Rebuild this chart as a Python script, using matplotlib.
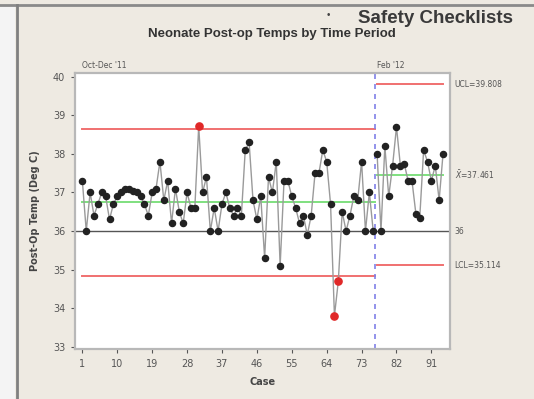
import matplotlib
matplotlib.use("Agg")
import matplotlib.pyplot as plt
from matplotlib.lines import Line2D

# ---------------- data ----------------
stage1_temps = [37.3, 36.0, 37.0, 36.4, 36.7, 37.0, 36.9, 36.3, 36.7,
                36.9, 37.0, 37.1, 37.1, 37.05, 37.0, 36.9,
                36.7, 36.4, 37.0, 37.1, 37.8,
                36.8, 37.3, 36.2, 37.1, 36.5, 36.2, 37.0, 36.6, 36.6, 38.72,
                37.0, 37.4, 36.0, 36.6, 36.0, 36.7, 37.0, 36.6, 36.4, 36.6,
                36.4, 38.1, 38.3, 36.8, 36.3, 36.9, 35.3, 37.4, 37.0, 37.8,
                35.1, 37.3, 37.3, 36.9, 36.6, 36.2, 36.4, 35.9, 36.4, 37.5,
                37.5, 38.1, 37.8, 36.7, 33.8, 34.7, 36.5, 36.0, 36.4, 36.9,
                36.8, 37.8, 36.0, 37.0, 36.0]
stage2_temps = [38.0, 36.0, 38.2, 36.9, 37.7, 38.7, 37.7, 37.75, 37.3,
                37.3, 36.45, 36.35, 38.1, 37.8, 37.3, 37.7, 36.8, 38.0]
stage_names = ["Oct-Dec '11", "Feb '12"]
ucl = [38.66, 39.808]
center = [36.75, 37.461]
lcl = [34.84, 35.114]
target = 36
x_ticks = [1, 10, 19, 28, 37, 46, 55, 64, 73, 82, 91]
y_ticks = [33, 34, 35, 36, 37, 38, 39, 40]

temps = stage1_temps + stage2_temps
cases = list(range(1, len(temps) + 1))
n1 = len(stage1_temps)

BG = "#EEEAE2"
fig = plt.figure(figsize=(5.34, 3.99), dpi=100, facecolor=BG)

# slide decoration
fig.add_artist(Line2D([0.0, 1.0], [0.988, 0.988], color="#8a8a8a", lw=2.0))
fig.add_artist(Line2D([0.031, 0.031], [0.0, 0.988], color="#808080", lw=2.0))
fig.patches.append(plt.Rectangle((0, 0), 0.029, 0.988, transform=fig.transFigure,
                                 facecolor="#f4f4f4", edgecolor="none", zorder=-1))
fig.text(0.614, 0.963, "\u2022", fontsize=7, color="#444444", ha="center", va="center",
         family="Liberation Sans")
fig.text(0.960, 0.953, "Safety Checklists", fontsize=13.5, color="#3a3a3a",
         ha="right", va="center", family="Liberation Sans", fontweight="bold")

ax = fig.add_axes([75 / 534, 50 / 399, 375 / 534, 276 / 399])
ax.set_facecolor("white")

ax.set_xlim(-0.9, 95.8)
ax.set_ylim(32.94, 40.1)

# stage 1 and 2 limits
s1 = (1, n1 + 0.5)
s2 = (n1 + 1, len(temps))
for (a, b), u, c, l in zip([s1, s2], ucl, center, lcl):
    ax.plot([a, b], [u, u], color="#f07070", lw=1.4, zorder=2)
    ax.plot([a, b], [l, l], color="#f07070", lw=1.4, zorder=2)
    ax.plot([a, b], [c, c], color="#7fe07f", lw=1.4, zorder=2)
ax.axhline(target, color="#555555", lw=1.0, zorder=2)
ax.axvline(n1 + 0.5, color="#8080e8", lw=1.2, ls=(0, (3, 3)), zorder=2)

# data
ax.plot(cases[:n1], stage1_temps, color="#9a9a9a", lw=1.0, zorder=3)
ax.plot(cases[n1:], stage2_temps, color="#9a9a9a", lw=1.0, zorder=3)
ucl_pt = [ucl[0] if i < n1 else ucl[1] for i in range(len(temps))]
lcl_pt = [lcl[0] if i < n1 else lcl[1] for i in range(len(temps))]
out = [(cases[i], temps[i]) for i in range(len(temps))
       if temps[i] > ucl_pt[i] or temps[i] < lcl_pt[i]]
ok = [(cases[i], temps[i]) for i in range(len(temps))
      if not (temps[i] > ucl_pt[i] or temps[i] < lcl_pt[i])]
ax.plot([p[0] for p in ok], [p[1] for p in ok], "o", color="#222222", ms=4.4,
        zorder=4, ls="none")
ax.plot([p[0] for p in out], [p[1] for p in out], "o", color="#e02828", ms=5.2,
        zorder=4, ls="none")

ax.set_xticks(x_ticks)
ax.set_yticks(y_ticks)
ax.tick_params(labelsize=7, colors="#555555", length=3, width=0.8, pad=4)
for s in ax.spines.values():
    s.set_color("#b8b8b8")
    s.set_linewidth(1.6)

ax.set_xlabel("Case", fontsize=7, color="#444444", labelpad=6, fontweight="bold")
ax.set_ylabel("Post-Op Temp (Deg C)", fontsize=7, color="#444444", labelpad=9,
              fontweight="bold")
fig.text(272 / 534, 1 - 34 / 399, "Neonate Post-op Temps by Time Period",
         fontsize=9.5, fontweight="bold", color="#333333", ha="center", va="center",
         family="Liberation Sans")

# stage labels above the plot
ax.text(1, 1.012, stage_names[0], transform=ax.get_xaxis_transform(),
        fontsize=5.5, color="#555555", ha="left", va="bottom")
ax.text(n1 + 1, 1.012, stage_names[1], transform=ax.get_xaxis_transform(),
        fontsize=5.5, color="#555555", ha="left", va="bottom")

# right-hand limit labels
ax.text(1.012, ucl[1], "UCL=%.3f" % ucl[1], transform=ax.get_yaxis_transform(),
        fontsize=5.5, color="#555555", ha="left", va="center")
ax.text(1.012, center[1], "$\\bar{X}$=%.3f" % center[1], transform=ax.get_yaxis_transform(),
        fontsize=5.5, color="#555555", ha="left", va="center")
ax.text(1.012, target, "%d" % target, transform=ax.get_yaxis_transform(),
        fontsize=5.5, color="#555555", ha="left", va="center")
ax.text(1.012, lcl[1], "LCL=%.3f" % lcl[1], transform=ax.get_yaxis_transform(),
        fontsize=5.5, color="#555555", ha="left", va="center")

fig.savefig("out.png", dpi=100, facecolor=BG)
